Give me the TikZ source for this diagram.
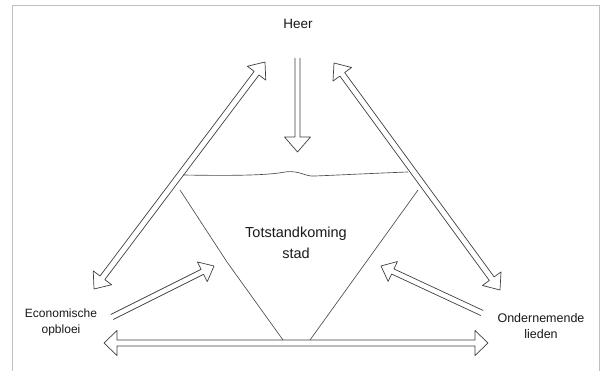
\documentclass[tikz,border=0pt]{standalone}
\usepackage{fontspec}
\setmainfont{Liberation Sans}
\usetikzlibrary{calc}
\tikzset{
  arrowline/.style={draw=black!75, line width=0.7pt, line join=round},
  thinline/.style={draw=black!70, line width=0.65pt},
  frameline/.style={draw=black!25, line width=0.8pt},
  lbl/.style={text=black!90, align=center, inner sep=0pt},
}
% single-headed hollow arrow: #1 tail, #2 tip, #3 half gap, #4 head half width, #5 head length
\newcommand\hollowone[5]{%
  \coordinate (hA) at ($(#2)!#5!(#1)$);
  \draw[arrowline] ($(#1)!#3!90:(#2)$) -- ($(hA)!#3!90:(#2)$) -- ($(hA)!#4!90:(#2)$) -- (#2)
    -- ($(hA)!#4!-90:(#2)$) -- ($(hA)!#3!-90:(#2)$) -- ($(#1)!#3!-90:(#2)$);
}
% double-headed hollow arrow between tips #1 and #2
\newcommand\hollowtwo[5]{%
  \coordinate (hA) at ($(#1)!#5!(#2)$);
  \coordinate (hB) at ($(#2)!#5!(#1)$);
  \draw[arrowline] ($(hA)!#3!90:(#2)$) -- ($(hB)!#3!90:(#2)$) -- ($(hB)!#4!90:(#2)$) -- (#2)
    -- ($(hB)!#4!-90:(#2)$) -- ($(hB)!#3!-90:(#2)$) -- ($(hA)!#3!-90:(#2)$)
    -- ($(hA)!#4!-90:(#2)$) -- (#1) -- ($(hA)!#4!90:(#2)$) -- cycle;
}
\begin{document}
\begin{tikzpicture}[x=1pt,y=-1pt]
\useasboundingbox (0,0) rectangle (603,371);
\fill[white] (0,0) rectangle (603,371);
% frame
\draw[frameline] (12,371) -- (12,5) -- (599,5) -- (599,371);

% labels
\node[lbl, font=\fontsize{13.5}{15}\selectfont] (heer) at (298,24) {Heer};
\node[lbl, font=\fontsize{14.5}{21}\selectfont] (stad) at (296,243) {Totstandkoming\\stad};
\node[lbl, font=\fontsize{12}{16}\selectfont] (econ) at (61,322) {Economische\\opbloei};
\node[lbl, font=\fontsize{12.5}{16}\selectfont] (onder) at (541,326) {Ondernemende\\lieden};

% arrow end points
\coordinate (heerS) at (297.5,58);
\coordinate (topT) at (297.5,152);
\coordinate (leftTop) at (265,62);
\coordinate (leftBot) at (94,289);
\coordinate (rightTop) at (334,63);
\coordinate (rightBot) at (500,290);
\coordinate (botL) at (104,343);
\coordinate (botR) at (488,343);
\coordinate (econS) at (112,317);
\coordinate (econT) at (214,266);
\coordinate (onderS) at (482,313);
\coordinate (onderT) at (381,266);

% triangle (funnel)
\coordinate (wavL) at (183,175);
\coordinate (wavR) at (408,172);
\coordinate (triL) at (180,190);
\coordinate (triR) at (418,190);
\coordinate (triBL) at (283,340);
\coordinate (triBR) at (310,340);
\draw[thinline] (wavL) .. controls (240,176) and (270,175) .. (285,172)
  .. controls (300,170) and (305,177) .. (315,176)
  .. controls (340,175) and (380,173) .. (wavR);
\draw[thinline] (triL) -- (227,262) -- (triBL);
\draw[thinline] (triR) -- (triBR);

% arrows
\hollowone{heerS}{topT}{2.5pt}{13pt}{15pt}
\hollowtwo{leftTop}{leftBot}{3pt}{11.5pt}{14pt}
\hollowtwo{rightTop}{rightBot}{3pt}{11.5pt}{14pt}
\hollowtwo{botL}{botR}{3pt}{12.5pt}{13pt}
\hollowone{econS}{econT}{2.8pt}{11pt}{13pt}
\hollowone{onderS}{onderT}{2.8pt}{11pt}{13pt}
\end{tikzpicture}
\end{document}
